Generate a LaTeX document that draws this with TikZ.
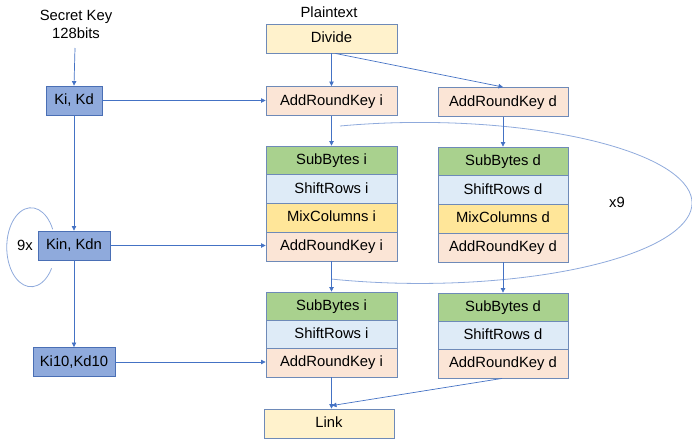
\documentclass[tikz,border=0pt]{standalone}
\usepackage{fontspec}
\setmainfont{Liberation Sans}
\usetikzlibrary{arrows.meta}
\definecolor{edge}{HTML}{4472C4}
\definecolor{loopc}{HTML}{8FAADC}
\definecolor{boxline}{HTML}{6E8AB8}
\definecolor{keyfill}{HTML}{8FAADC}
\definecolor{keyline}{HTML}{4A6FB5}
\definecolor{yel}{HTML}{FFF2CC}
\definecolor{ark}{HTML}{FBE5D6}
\definecolor{sb}{HTML}{A9D18E}
\definecolor{sr}{HTML}{DEEBF7}
\definecolor{mc}{HTML}{FFE699}
\begin{document}
\begin{tikzpicture}[x=1pt,y=-1pt,
  font=\fontsize{14.8}{18}\selectfont,
  stage/.style={draw=boxline, line width=0.9pt, inner sep=0pt,
    minimum height=29pt, text height=11pt, text depth=3pt},
  lw/.style={minimum width=131pt},
  rw/.style={minimum width=130pt},
  keybox/.style={stage, draw=keyline, fill=keyfill},
  plain/.style={inner sep=0pt},
  conn/.style={draw=edge, line width=0.7pt, -{Triangle[length=4.5pt,width=4.5pt]}},
  loopline/.style={draw=loopc, line width=0.8pt}]
\useasboundingbox (0,0) rectangle (692,440);

% key schedule column
\node[plain, align=center] (sk) at (76,24) {Secret Key\\128bits};
\coordinate (skend) at (75,48);
\node[keybox, minimum width=56pt] (k1) at (74,100.5) {Ki, Kd};
\node[keybox, minimum width=72pt] (k2) at (74,245.5) {Kin, Kdn};
\node[keybox, minimum width=82pt] (k3) at (74,362) {Ki10,Kd10};
\node[plain] (nine) at (25,245) {9x};

% top of the data path
\node[plain] (pt) at (329,12) {Plaintext};
\node[stage, fill=yel, lw] (div) at (331.5,38.5) {Divide};
\node[stage, fill=ark, lw] (ai0) at (331.5,101) {AddRoundKey i};
\node[stage, fill=ark, rw] (ad0) at (503,102) {AddRoundKey d};

% main rounds (left, i)
\node[stage, fill=sb, lw, minimum height=28.75pt] (si1) at (331.5,160.4) {SubBytes i};
\node[stage, fill=sr, lw, minimum height=28.75pt] (ri1) at (331.5,189.1) {ShiftRows i};
\node[stage, fill=mc, lw, minimum height=28.75pt] (mi1) at (331.5,217.9) {MixColumns i};
\node[stage, fill=ark, lw, minimum height=28.75pt] (ai1) at (331.5,246.6) {AddRoundKey i};

% main rounds (right, d)
\node[stage, fill=sb, rw, minimum height=28.75pt] (sd1) at (503,161.4) {SubBytes d};
\node[stage, fill=sr, rw, minimum height=28.75pt] (rd1) at (503,190.1) {ShiftRows d};
\node[stage, fill=mc, rw, minimum height=28.75pt] (md1) at (503,218.9) {MixColumns d};
\node[stage, fill=ark, rw, minimum height=28.75pt] (ad1) at (503,247.6) {AddRoundKey d};

% final round
\node[stage, fill=sb, lw, minimum height=28.33pt] (si2) at (331.5,306.2) {SubBytes i};
\node[stage, fill=sr, lw, minimum height=28.33pt] (ri2) at (331.5,334.5) {ShiftRows i};
\node[stage, fill=ark, lw, minimum height=28.33pt] (ai2) at (331.5,362.8) {AddRoundKey i};
\node[stage, fill=sb, rw, minimum height=28.33pt] (sd2) at (503,307.2) {SubBytes d};
\node[stage, fill=sr, rw, minimum height=28.33pt] (rd2) at (503,335.5) {ShiftRows d};
\node[stage, fill=ark, rw, minimum height=28.33pt] (ad2) at (503,363.8) {AddRoundKey d};

\node[stage, fill=yel, rw] (link) at (329,423.5) {Link};
\node[plain] (x9) at (617,202) {x9};

% round loop markers
\draw[loopline] (340,126) arc[start angle=107.1, end angle=-108.9, x radius=272pt, y radius=80.5pt];
\draw[loopline] (52.7,229.3) arc[start angle=27, end angle=327.7, x radius=24.3pt, y radius=39.5pt];

% key connectors
\draw[conn] (skend) -- (k1.north);
\draw[conn] (k1) -- (k2);
\draw[conn] (k2) -- (k3);
\draw[conn] (k1.east) -- (k1.east -| ai0.west);
\draw[conn] (k2.east) -- (k2.east -| ai1.west);
\draw[conn] (k3.east) -- (k3.east -| ai2.west);

% data connectors
\draw[conn] (div) -- (ai0);
\draw[conn] ([xshift=4pt]div.south) -- (ad0.north);
\draw[conn] (ai0) -- (si1);
\draw[conn] (ad0) -- (sd1);
\draw[conn] (ai1) -- (si2);
\draw[conn] (ad1) -- (sd2);
\draw[conn] (ai2.south) -- ([xshift=2.5pt]link.north);
\draw[conn] ([xshift=-1pt]ad2.south) -- ([xshift=3pt,yshift=3pt]link.north);
\end{tikzpicture}
\end{document}
